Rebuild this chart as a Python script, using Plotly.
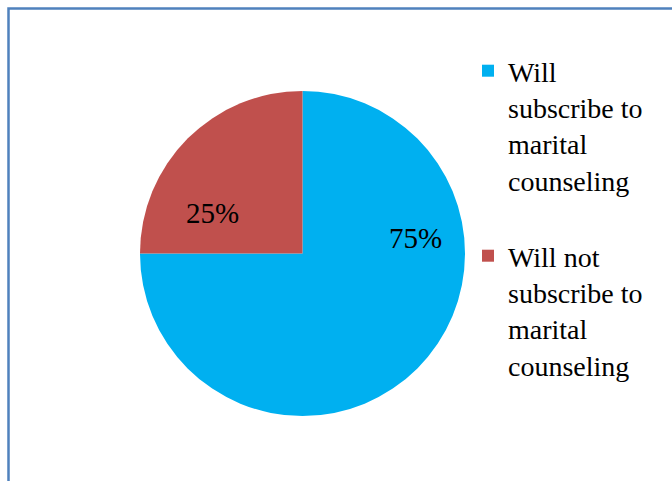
import plotly.graph_objects as go

labels = ["Will<br>subscribe to<br>marital<br>counseling<br> ", "Will not<br>subscribe to<br>marital<br>counseling"]
values = [75, 25]
colors = ["#00B0F0", "#C0504D"]
pct_pos = [(415 / 672, 1 - 238 / 481), (184 / 672, 1 - 213 / 481)]

W, H = 672, 481
cx, cy, r = 302.5, 253.5, 162.5
SERIF = "Liberation Serif"

fig = go.Figure(go.Pie(
    labels=labels, values=values, sort=False, direction="clockwise", rotation=0,
    marker=dict(colors=colors), textinfo="none", hoverinfo="label+percent",
    domain=dict(x=[(cx - r) / W, (cx + r) / W], y=[1 - (cy + r) / H, 1 - (cy - r) / H]),
))

total = sum(values)
for v, (px, py) in zip(values, pct_pos):
    fig.add_annotation(x=px, y=py, xref="paper", yref="paper", text=f"{round(100 * v / total)}%",
                       showarrow=False, font=dict(family=SERIF, size=29, color="black"))

fig.add_shape(type="path", xref="paper", yref="paper",
              path=f"M {8.5 / W} 0 L {8.5 / W} {1 - 8.5 / H} L 1 {1 - 8.5 / H}",
              line=dict(color="#4F81BD", width=2.5))

fig.update_layout(
    width=W, height=H, margin=dict(l=0, r=0, t=0, b=0, autoexpand=False),
    paper_bgcolor="white", plot_bgcolor="white",
    font=dict(family=SERIF, size=28, color="black"),
    legend=dict(x=468 / W, y=1 - 46 / H, xanchor="left", yanchor="top", valign="top",
                font=dict(family=SERIF, size=28), itemwidth=30, bgcolor="rgba(0,0,0,0)"),
    showlegend=True,
)

fig.write_html("out.html")
